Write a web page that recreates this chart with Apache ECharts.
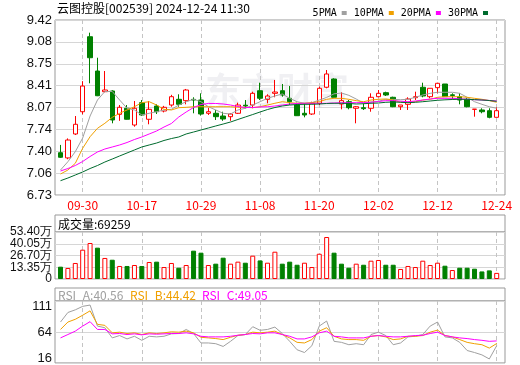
<!DOCTYPE html>
<html><head><meta charset="utf-8">
<script src="https://cdn.jsdelivr.net/npm/echarts@6/dist/echarts.min.js"></script>
<style>html,body{margin:0;padding:0;background:#fff}#c{width:520px;height:365px}</style>
</head><body><div id="c"></div>
<script>
// ---------- data ----------
const titleText = '云图控股[002539] 2024-12-24 11:30';
const dates = ['09-25','09-26','09-27','09-30','10-08','10-09','10-10','10-11','10-14','10-15',
  '10-16','10-17','10-18','10-21','10-22','10-23','10-24','10-25','10-28','10-29',
  '10-30','10-31','11-01','11-04','11-05','11-06','11-07','11-08','11-11','11-12',
  '11-13','11-14','11-15','11-18','11-19','11-20','11-21','11-22','11-25','11-26',
  '11-27','11-28','11-29','12-02','12-03','12-04','12-05','12-06','12-09','12-10',
  '12-11','12-12','12-13','12-16','12-17','12-18','12-19','12-20','12-23','12-24'];
const opens = [7.38,7.30,7.668,8.01,9.163,8.636,8.318,8.329,7.97,8.063,
  7.806,8.149,7.894,8.098,8.021,8.113,8.201,8.18,8.20,8.19,
  7.986,7.986,7.944,7.934,7.986,8.11,8.113,8.333,8.20,8.293,
  8.333,8.217,8.113,7.986,7.975,8.14,8.386,8.513,8.129,8.164,
  8.063,8.072,8.063,8.241,8.303,8.232,8.087,8.124,8.226,8.386,
  8.241,8.38,8.436,8.27,8.241,8.201,8.047,8.037,8.026,7.924];
const closes = [7.31,7.575,7.817,8.405,8.84,8.256,8.344,7.883,8.078,7.894,
  8.063,7.96,8.047,8.01,8.078,8.241,8.124,8.344,8.19,7.975,
  8.01,7.934,7.898,7.975,8.113,8.098,8.293,8.217,8.252,8.313,
  8.267,8.164,7.949,7.96,8.14,8.37,8.59,8.232,8.18,8.072,
  8.087,8.057,8.232,8.293,8.267,8.087,8.113,8.206,8.241,8.252,
  8.37,8.447,8.241,8.26,8.19,8.087,8.05,8.01,7.924,8.026];
const lows = [7.30,7.28,7.652,7.97,8.447,8.25,8.31,7.832,7.87,7.89,
  7.78,7.944,7.817,7.975,8.0,8.087,8.087,8.124,7.986,7.95,
  7.96,7.883,7.87,7.87,7.975,8.06,8.063,8.19,8.14,8.232,
  8.241,8.113,7.945,7.924,7.96,8.113,8.37,8.23,8.047,8.047,
  7.832,8.037,8.01,8.232,8.252,8.08,8.037,8.037,8.19,8.232,
  8.217,8.293,8.24,8.20,8.124,8.078,7.934,7.986,7.909,7.924];
const highs = [7.50,7.60,7.944,8.48,9.225,8.84,8.636,8.34,8.113,8.113,
  8.175,8.19,8.175,8.124,8.10,8.27,8.278,8.36,8.232,8.293,
  8.07,8.037,8.01,7.986,8.149,8.19,8.318,8.456,8.278,8.498,
  8.436,8.405,8.149,8.14,8.164,8.395,8.651,8.524,8.309,8.19,
  8.098,8.14,8.293,8.344,8.318,8.241,8.113,8.232,8.318,8.456,
  8.37,8.456,8.436,8.293,8.293,8.22,8.05,8.063,8.063,8.078];
const ma5 = [7.114,7.242,7.396,7.606,7.944,8.190,8.321,8.321,8.190,8.063,
  8.037,7.960,7.986,8.010,8.037,8.047,8.113,8.164,8.201,8.164,
  8.087,8.037,7.986,7.975,8.037,8.063,8.113,8.164,8.216,8.252,
  8.283,8.216,8.164,8.140,8.149,8.190,8.230,8.285,8.298,8.262,
  8.205,8.140,8.160,8.170,8.200,8.200,8.195,8.201,8.232,8.267,
  8.293,8.309,8.309,8.309,8.293,8.232,8.164,8.124,8.087,8.063];
const ma10 = [7.053,7.114,7.217,7.448,7.626,7.755,7.832,7.924,7.986,8.037,
  8.087,8.149,8.164,8.113,8.047,8.037,8.072,8.078,8.087,8.087,
  8.087,8.087,8.087,8.087,8.078,8.078,8.072,8.087,8.113,8.140,
  8.164,8.149,8.140,8.140,8.149,8.164,8.201,8.216,8.216,8.201,
  8.180,8.164,8.190,8.201,8.206,8.190,8.155,8.155,8.164,8.190,
  8.201,8.232,8.241,8.241,8.241,8.232,8.216,8.201,8.180,8.155];
const ma20 = [7.099,7.137,7.183,7.245,7.322,7.391,7.437,7.468,7.499,7.537,
  7.583,7.622,7.668,7.714,7.775,7.829,7.929,8.006,8.075,8.121,
  8.137,8.137,8.129,8.113,8.090,8.075,8.075,8.083,8.087,8.098,
  8.113,8.129,8.137,8.140,8.140,8.140,8.140,8.144,8.149,8.149,
  8.149,8.152,8.155,8.167,8.180,8.180,8.172,8.164,8.175,8.190,
  8.206,8.216,8.216,8.216,8.209,8.201,8.195,8.190,8.183,8.175];
const ma30 = [6.950,6.991,7.037,7.084,7.137,7.183,7.237,7.283,7.330,7.376,
  7.422,7.468,7.499,7.529,7.568,7.598,7.622,7.668,7.698,7.729,
  7.760,7.791,7.821,7.852,7.891,7.929,7.967,8.006,8.044,8.075,
  8.098,8.113,8.121,8.124,8.124,8.129,8.137,8.140,8.140,8.137,
  8.129,8.133,8.140,8.144,8.155,8.160,8.155,8.149,8.155,8.164,
  8.175,8.186,8.193,8.198,8.201,8.201,8.196,8.190,8.183,8.170];
// volume in 万手
const volumes = [14.0,12.5,18.2,33.3,40.9,35.6,23.9,21.9,14.8,14.8,
  15.9,14.8,19.3,19.7,13.6,18.2,12.8,15.9,32.2,29.9,
  15.9,17.4,24.2,17.4,19.7,18.5,26.5,21.1,18.5,31.0,
  17.4,19.7,16.2,18.5,13.6,28.7,47.7,29.9,17.4,12.8,
  17.4,16.2,20.8,21.6,16.2,16.2,11.4,14.8,13.6,20.8,
  15.9,18.5,15.1,10.2,12.8,12.8,11.7,8.6,9.8,6.9259];
const rsiA = [82.6,99.6,104.3,110.5,112.8,75.4,72.5,54.4,58.6,52.6,
  57.3,50.1,57.3,56.2,57.3,61.6,62.2,69.4,62.2,45.4,
  45.4,44.1,39.2,48.3,58.6,60.4,74.3,67.9,69.4,73.6,
  62.2,48.3,33.3,28.4,40.5,75.4,84.4,48.3,46.5,42.3,
  44.1,42.3,60.4,64.6,58.6,42.3,45.4,56.2,57.3,60.4,
  75.4,82.6,56.2,54.4,46.5,32.0,28.4,24.2,17.0,40.56];
const rsiB = [69.4,82.6,87.5,94.7,102.5,78.5,76.7,63.4,64.6,62.2,
  63.4,60.4,63.4,62.2,63.4,65.2,64.6,66.4,63.4,55.5,
  54.4,53.2,51.4,55.5,59.1,60.4,64.6,63.4,64.6,66.4,
  60.4,54.4,46.5,45.4,51.4,66.4,72.5,57.3,52.6,51.4,
  51.4,50.1,57.3,58.6,56.2,51.4,52.6,57.3,57.3,58.6,
  64.6,68.2,58.6,56.2,51.4,46.5,44.1,42.3,36.3,44.42];
const rsiC = [54.4,60.4,66.4,75.4,83.3,69.4,69.4,61.6,62.2,60.4,
  61.6,59.8,61.6,61.0,61.6,62.2,62.2,63.4,61.6,57.3,
  56.2,56.2,56.2,57.3,59.1,60.4,62.2,61.6,63.4,63.4,
  60.4,57.3,52.6,52.6,56.2,63.4,66.4,57.3,56.2,54.4,
  54.4,54.4,57.3,58.6,57.3,56.2,56.2,57.3,58.6,59.1,
  62.2,64.6,58.6,56.2,54.4,53.2,51.4,50.1,48.3,49.05];
const priceTicks = ['6.73','7.06','7.40','7.74','8.07','8.41','8.75','9.08','9.42'];
const volTicks = ['0','13.35万','26.70万','40.05万','53.40万'];
const rsiTicks = [16, 64, 111];
const maNames = ['5PMA','10PMA','20PMA','30PMA'];

// ---------- chart ----------
const UP = '#ff0000', DOWN = '#008000';
const MA_COLORS = ['#a0a0a0', '#f0a000', '#ff00ff', '#006b2e'];
const RSI_COLORS = ['#a0a0a0', '#f0a000', '#ff00ff'];
const cjk = '"Noto Sans CJK SC", sans-serif';
const mono = '"DejaVu Sans Mono", monospace';
const axisFont = '"Liberation Sans", Arial, sans-serif';
const GRID_LINE = '#d6d6d6';
const BORDER = '#999999';
const showIdx = (i) => (i - 3) % 8 === 0;

const candle = opens.map((o, i) => [o, closes[i], lows[i], highs[i]]);
const volData = volumes.map((v, i) => {
  const prev = i === 0 ? opens[0] : closes[i - 1];
  const up = closes[i] >= prev;
  return { value: v, itemStyle: up ? { color: '#fff', borderColor: UP, borderWidth: 1 } : { color: DOWN, borderColor: DOWN, borderWidth: 1 } };
});

const DL = 60.5, DW = 436.2;
const grids = [
  { left: 55, top: 20, width: 450, height: 175, show: true, borderColor: BORDER, borderWidth: 1 },
  { left: DL, top: 20, width: DW, height: 175 },
  { left: 55, top: 232, width: 450, height: 47, show: true, borderColor: BORDER, borderWidth: 1 },
  { left: DL, top: 232, width: DW, height: 47 },
  { left: 55, top: 301, width: 450, height: 63, show: true, borderColor: BORDER, borderWidth: 1 },
  { left: DL, top: 301, width: DW, height: 63 },
  { left: 55, top: 232, width: 450, height: 47 }
];
function visX(g) { return { gridIndex: g, type: 'value', min: 0, max: 1, show: false }; }
function dataX(g, labels) {
  return {
    gridIndex: g, type: 'category', data: dates, boundaryGap: false,
    axisLine: { show: false }, axisTick: { show: false },
    axisLabel: { show: labels, interval: (i) => showIdx(i), color: '#ff0000', fontFamily: cjk, fontSize: 12, margin: 4 },
    splitLine: { show: true, interval: (i) => showIdx(i), lineStyle: { color: '#c4c4c4', type: [4, 3], width: 1 } }
  };
}
const labelStyle = { color: '#111', fontFamily: axisFont, fontSize: 13, margin: 3, showMinLabel: true, showMaxLabel: true };
const volLabel = Object.assign({}, labelStyle, { fontSize: 12, formatter: (v) => volTicks[Math.round(v)] });
const option = {
  animation: false,
  backgroundColor: '#fff',
  grid: grids,
  xAxis: [visX(0), dataX(1, true), visX(2), dataX(3, false), visX(4), dataX(5, false), visX(6)],
  yAxis: [
    { gridIndex: 0, type: 'value', min: 0, max: 8, interval: 1, axisLine: { show: false }, axisTick: { show: false },
      axisLabel: Object.assign({}, labelStyle, { formatter: (v) => priceTicks[Math.round(v)] }),
      splitLine: { lineStyle: { color: GRID_LINE } } },
    { gridIndex: 1, type: 'value', min: 6.73, max: 9.42, show: false },
    { gridIndex: 2, type: 'value', position: 'left', min: 0, max: 4, interval: 1, axisLine: { show: false }, axisTick: { show: false },
      axisLabel: Object.assign({}, volLabel, { customValues: [0, 2, 4] }),
      splitLine: { lineStyle: { color: GRID_LINE } } },
    { gridIndex: 3, type: 'value', min: 0, max: 53.4, show: false },
    { gridIndex: 4, type: 'value', min: 8, max: 120, interval: 56, axisLine: { show: false }, axisTick: { show: false },
      axisLabel: Object.assign({}, labelStyle, { customValues: rsiTicks }),
      splitLine: { lineStyle: { color: GRID_LINE } } },
    { gridIndex: 5, type: 'value', min: 8, max: 120, show: false },
    { gridIndex: 6, type: 'value', position: 'left', min: 0, max: 4, interval: 1, axisLine: { show: false }, axisTick: { show: false },
      axisLabel: Object.assign({}, volLabel, { customValues: [1, 3] }),
      splitLine: { show: false } }
  ],
  legend: {
    data: maNames, right: 27, top: 3, align: 'right', icon: 'rect', itemWidth: 5, itemHeight: 4, itemGap: 7,
    selectedMode: false, textStyle: { fontFamily: mono, fontSize: 10, color: '#000' }
  },
  series: [
    { type: 'candlestick', xAxisIndex: 1, yAxisIndex: 1, data: candle, barWidth: 5, clip: false,
      itemStyle: { color: '#fff', color0: DOWN, borderColor: UP, borderColor0: DOWN, borderWidth: 1 } },
    ...[ma5, ma10, ma20, ma30].map((d, k) => ({
      type: 'line', name: maNames[k], xAxisIndex: 1, yAxisIndex: 1, data: d, symbol: 'none', showSymbol: false,
      color: MA_COLORS[k], lineStyle: { width: 1, color: MA_COLORS[k] }, clip: false, z: 3, silent: true
    })),
    { type: 'bar', xAxisIndex: 3, yAxisIndex: 3, data: volData, barWidth: 5, clip: false },
    ...[rsiA, rsiB, rsiC].map((d, k) => ({
      type: 'line', xAxisIndex: 5, yAxisIndex: 5, data: d, symbol: 'none', showSymbol: false,
      lineStyle: { width: 1, color: RSI_COLORS[k] }, clip: false, silent: true
    }))
  ],
  graphic: [
    { type: 'text', left: 205, top: 72, z: 0, silent: true,
      style: { text: '东方财富', font: 'bold 36px "Noto Sans CJK SC"', fill: 'rgba(180,180,195,0.2)' } },
    { type: 'rect', shape: { x: 55, y: 215, width: 450, height: 17 }, style: { fill: 'none', stroke: BORDER, lineWidth: 1 }, silent: true },
    { type: 'rect', shape: { x: 55, y: 288, width: 450, height: 13 }, style: { fill: 'none', stroke: BORDER, lineWidth: 1 }, silent: true },
    { type: 'text', x: 57, y: 8, style: { text: titleText, font: '12px ' + cjk, fill: '#000', verticalAlign: 'middle' } },
    { type: 'text', x: 58, y: 224, style: { text: '成交量:' + Math.round(volumes[volumes.length - 1] * 10000), font: '12px ' + cjk, fill: '#000', verticalAlign: 'middle' } },
    { type: 'text', x: 58, y: 295, style: { text: 'RSI_A:' + rsiA[rsiA.length - 1].toFixed(2), font: '12px ' + cjk, fill: RSI_COLORS[0], verticalAlign: 'middle' } },
    { type: 'text', x: 130, y: 295, style: { text: 'RSI_B:' + rsiB[rsiB.length - 1].toFixed(2), font: '12px ' + cjk, fill: RSI_COLORS[1], verticalAlign: 'middle' } },
    { type: 'text', x: 202, y: 295, style: { text: 'RSI_C:' + rsiC[rsiC.length - 1].toFixed(2), font: '12px ' + cjk, fill: RSI_COLORS[2], verticalAlign: 'middle' } }
  ]
};
const chart = echarts.init(document.getElementById('c'));
chart.setOption(option);
</script>
</body></html>
